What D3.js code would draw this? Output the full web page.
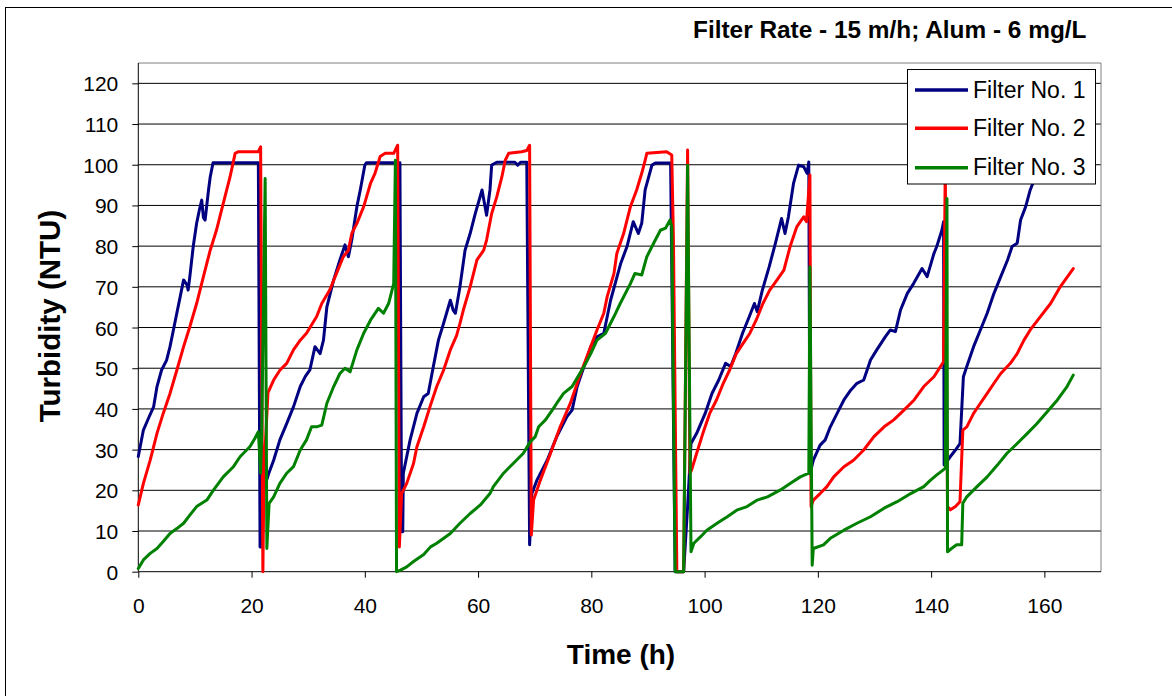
<!DOCTYPE html>
<html>
<head>
<meta charset="utf-8">
<script src="https://cdn.jsdelivr.net/npm/d3@7"></script>
<style>
  html, body { margin: 0; padding: 0; background: #fff; }
  svg { display: block; }
  text { font-family: "Liberation Sans", Arial, sans-serif; fill: #000; }
</style>
</head>
<body>
<svg id="chart" width="1172" height="696"></svg>
<script>
// ---- Data (time in h, turbidity in NTU) ----
const title = "Filter Rate - 15 m/h; Alum - 6 mg/L";
const xLabel = "Time (h)";
const yLabel = "Turbidity (NTU)";
const seriesNames = ["Filter No. 1", "Filter No. 2", "Filter No. 3"];
const seriesColors = ["#000080", "#FF0000", "#008000"];
const xTicks = [0, 20, 40, 60, 80, 100, 120, 140, 160];
const yTicks = [0, 10, 20, 30, 40, 50, 60, 70, 80, 90, 100, 110, 120];

const filter1 = [[0,28.3],[0.9,34.8],[1.8,37.7],[2.7,40.5],[3.3,45.5],[4.1,49.5],[5.0,52],[5.6,55.3],[6.2,59.4],[6.8,63.5],[7.4,67.6],[8.0,71.7],[8.6,70.5],[8.8,69.2],[9.1,72.5],[9.7,79.9],[10.3,85.6],[10.8,89],[11.2,91.3],[11.5,87],[11.8,86.4],[12.4,93.8],[12.7,97],[13.2,100.5],[21.2,100.5],[21.5,6.1],[21.7,6.1],[22.1,20],[23.0,24],[23.9,27.4],[25.0,32.4],[26.2,36.4],[27.4,40.5],[28.6,45.5],[29.5,48],[30.3,49.6],[31.2,55.3],[32.1,53.6],[32.7,56.9],[33.3,65.1],[34.5,71.7],[35.6,76.6],[36.5,80.3],[37.1,77.4],[37.7,81.5],[38.6,89.7],[39.2,93.8],[40.0,99.9],[40.3,100.5],[46.2,100.5],[46.5,9.8],[46.7,9.8],[46.8,24.2],[48.0,32.4],[49.2,38.9],[50.4,43],[51.2,43.8],[52.1,50.4],[53.0,56.9],[53.9,61],[55.1,66.7],[55.6,64.3],[56.0,63.5],[56.8,70],[57.7,79],[58.6,83.1],[59.5,88],[60.7,93.8],[61.5,87.6],[62.1,93.8],[62.4,99.9],[63.3,100.6],[66.5,100.6],[67,99.9],[67.5,100.6],[68.6,100.6],[69.1,6.6],[69.5,19.2],[70.4,22.5],[72.2,27.4],[73.9,33.2],[75.7,38.1],[76.6,39.7],[77.5,45.5],[78.7,50.4],[79.9,55.3],[81.0,57.7],[82.2,58.6],[83.4,66.7],[85.2,75.8],[86.3,79.9],[87.4,86],[88.3,83.1],[88.9,85.6],[89.5,93.8],[90.7,99.9],[91.3,100.4],[94.0,100.4],[94.8,0],[96.3,0],[97.0,16],[97.6,31.5],[98.6,34],[100.1,38.9],[101.3,43.8],[102.5,47.1],[103.7,51.2],[104.6,50.4],[105.5,53.6],[106.7,58.6],[107.9,62.7],[108.8,65.9],[109.3,63.9],[110.2,69.2],[111.4,74.9],[112.5,80.7],[113.6,86.8],[114.2,83.1],[114.8,87.2],[115.7,95.4],[116.6,99.9],[117.5,99.5],[118.1,97.9],[118.4,100.7],[118.6,24],[119.2,27.4],[120.4,31.1],[121.3,32.4],[122.2,35.6],[123.4,38.9],[124.6,42.2],[125.8,44.6],[126.9,46.3],[128.1,47.1],[129.3,52],[130.4,54.5],[131.9,57.7],[132.8,59.4],[133.7,59],[134.6,64.3],[135.8,68.4],[136.9,70.8],[138.4,74.5],[139.3,72.5],[140.5,78.2],[141.0,79.9],[141.9,83.9],[142.2,86],[142.3,26.2],[143.4,28.3],[144.3,29.9],[145.1,31.5],[145.7,47.9],[146.3,50.4],[147.5,55.3],[148.7,59.4],[149.9,63.5],[151.1,68.4],[152.3,72.5],[153.5,76.6],[154.3,79.9],[155.2,80.7],[155.8,86.4],[156.7,89.7],[157.5,93.8],[158.4,97],[159.5,100.5],[165,100.5]];

const filter2 = [[0,16.4],[0.9,21.7],[2.1,27.4],[3.3,34],[4.4,38.9],[5.6,43.8],[6.8,49.5],[8.0,55.3],[9.1,60.2],[10.3,65.9],[11.5,72.5],[12.7,79],[13.8,83.9],[15.0,90.5],[16.2,97],[17.1,102.8],[17.7,103.2],[21.2,103.2],[21.6,104.4],[22.0,0],[22.2,25],[22.9,44],[23.9,47.1],[25.0,49.5],[26.2,51.2],[27.4,54.5],[28.6,56.9],[29.7,58.6],[31.5,62.7],[32.4,65.9],[33.8,69.2],[35.0,73.3],[36.2,77.4],[37.1,79],[37.7,83.1],[38.6,85.6],[39.8,89.7],[41.0,95.4],[41.8,97.9],[42.7,102],[43.6,102.8],[45.1,102.8],[45.8,104.8],[46.1,6.1],[46.5,19.2],[47.4,21.7],[48.6,26.6],[49.2,30.7],[50.4,35.6],[51.5,40.5],[52.7,45.5],[53.9,49.5],[55.1,54.5],[56.2,58],[56.8,61],[57.4,64.3],[58.6,70],[59.8,76.6],[61.0,79],[61.5,81.5],[62.4,88],[63.3,92.1],[64.2,97],[64.8,101.1],[65.4,102.8],[67.7,103.2],[68.6,103.5],[69.1,104.8],[69.4,9],[69.8,17.6],[71.0,22.5],[72.8,29.1],[74.5,35.6],[76.3,41.4],[78.1,48.7],[79.9,55.3],[81.0,59.4],[82.2,63.5],[82.8,67.6],[84.0,73.3],[84.5,78.2],[85.7,83.1],[86.9,89.7],[88.0,93.8],[88.9,97.9],[89.5,101.1],[89.8,102.8],[93.3,103.2],[94.2,102.4],[94.5,81.5],[95.1,0],[96.3,0],[97.0,103.6],[97.4,24.2],[97.7,25],[98.6,29.1],[99.7,34],[100.9,38.9],[102.1,42.2],[103.3,46.3],[104.4,49.5],[105.6,53.6],[106.8,56.1],[108.0,58.6],[109.1,61.8],[110.3,65.9],[111.5,69.2],[112.8,71.7],[114.0,74.1],[115.1,79.9],[116.3,84.8],[117.5,87.2],[118.0,86],[118.6,97.5],[118.8,16],[119.2,17.6],[120.4,19.2],[121.6,20.9],[122.8,23.3],[124.6,25.8],[126.3,27.4],[128.1,29.9],[129.9,33.2],[131.7,35.6],[133.4,37.3],[135.2,39.7],[137.0,42.2],[138.7,45.5],[140.5,47.9],[142.2,51.6],[142.5,100],[142.9,16],[143.4,15.2],[144.3,16],[145.1,17.2],[145.6,34.8],[146.3,35.6],[147.5,38.9],[148.7,41.4],[149.9,43.8],[151.1,46.3],[152.3,48.7],[154.0,51.2],[155.2,53.6],[156.4,56.9],[157.5,59.4],[159.3,62.7],[161.1,65.9],[162.8,70],[165.1,74.5]];

const filter3 = [[0,0.8],[0.9,2.9],[2.1,4.5],[3.3,5.7],[4.4,7.4],[5.6,9.4],[6.8,10.6],[8.0,11.9],[9.1,13.9],[10.3,16],[12.1,17.6],[13.3,20.1],[15.0,23.3],[16.8,25.8],[18.0,28.3],[19.7,30.7],[20.6,32.8],[21.2,34.4],[21.6,24.2],[21.8,34.8],[22.4,96.6],[22.7,5.7],[23.1,16.8],[23.9,18.4],[25.0,21.7],[26.2,24.2],[27.4,25.8],[28.6,29.9],[29.7,32.4],[30.6,35.6],[31.5,35.6],[32.4,36],[33.3,41.4],[34.5,45.5],[35.6,48.7],[36.5,50],[37.4,49.1],[38.6,54.5],[39.8,58.6],[41.0,61.8],[42.4,64.7],[43.3,63.5],[44.2,65.9],[45.1,70.8],[45.4,101.1],[45.6,0],[46.3,0.4],[47.4,1.2],[48.6,2.5],[50.4,4.2],[51.6,6.1],[52.7,7],[55.1,9.4],[56.8,11.9],[58.6,14.3],[60.4,16.4],[62.1,19.2],[62.7,20.9],[64.5,24.2],[66.2,26.6],[68.0,29.1],[69.2,31.9],[70.1,33.2],[70.7,35.6],[71.9,37.3],[73.1,39.7],[73.9,41.4],[75.1,43.8],[76.6,45.5],[77.8,48.3],[78.7,50.4],[79.9,53.6],[81.0,56.9],[82.5,58.6],[84.0,62.7],[85.1,65.9],[86.9,70.8],[87.7,73.3],[88.9,72.9],[89.8,77.4],[91.0,80.7],[92.2,83.9],[93.1,84.4],[93.9,86.4],[94.2,84.8],[94.8,0],[96.3,0],[97.0,99.9],[97.6,4.9],[98.1,7],[99.3,8.6],[100.4,10.2],[102.2,11.9],[104.0,13.5],[105.8,15.2],[107.5,16],[109.3,17.6],[111.1,18.4],[113.4,20.1],[115.1,21.7],[116.9,23.3],[118.4,24.2],[118.6,74.9],[119.0,1.6],[119.2,5.7],[121.0,6.6],[122.2,8.2],[124.6,10.2],[126.9,11.9],[129.3,13.5],[131.7,15.6],[134.0,17.2],[136.4,19.2],[138.7,20.9],[139.9,22.5],[141.0,23.8],[142.5,25.4],[142.8,91.7],[142.9,4.9],[143.6,5.7],[144.5,6.6],[145.4,6.6],[145.6,16.8],[146.3,18.4],[148.1,20.9],[149.9,23.3],[151.7,26.2],[153.4,29.1],[155.2,31.5],[157.0,34],[158.7,36.4],[160.5,39.3],[162.3,42.2],[164.0,45.5],[165.1,48.3]];

const allSeries = [filter1, filter2, filter3];

// ---- Layout ----
const svg = d3.select("#chart");
const plot = { left: 138.3, right: 1101, top: 63, bottom: 571.7 };

const x = d3.scaleLinear().domain([0, 170]).range([plot.left, plot.right]);
const y = d3.scaleLinear().domain([0, 125]).range([plot.bottom, plot.top]);

// outer frame
svg.append("rect").attr("x", 5.5).attr("y", 7.5).attr("width", 1180).attr("height", 700)
  .attr("fill", "none").attr("stroke", "#000").attr("stroke-width", 1);

// gridlines
svg.append("g").selectAll("line").data(yTicks.filter(d => d > 0)).join("line")
  .attr("x1", plot.left).attr("x2", plot.right)
  .attr("y1", d => y(d)).attr("y2", d => y(d))
  .attr("stroke", "#000").attr("stroke-width", 1);

// plot frame top/right (gray)
svg.append("line").attr("x1", plot.left).attr("x2", plot.right).attr("y1", plot.top).attr("y2", plot.top)
  .attr("stroke", "#808080").attr("stroke-width", 1);
svg.append("line").attr("x1", plot.right).attr("x2", plot.right).attr("y1", plot.top).attr("y2", plot.bottom)
  .attr("stroke", "#808080").attr("stroke-width", 1);

// axes
const yAxis = d3.axisLeft(y).tickValues(yTicks).tickSize(6).tickPadding(14).tickFormat(d3.format("d"));
const gy = svg.append("g").attr("transform", `translate(${plot.left},0)`).call(yAxis);
gy.select(".domain").attr("stroke", "#000").attr("d", `M0,${plot.top}V${plot.bottom}`);
gy.selectAll(".tick line").attr("stroke", "#000");
gy.selectAll(".tick text").attr("font-size", 21).attr("font-family", "Liberation Sans, Arial, sans-serif").attr("dy", "0.36em");

const xAxis = d3.axisBottom(x).tickValues(xTicks).tickSize(6).tickPadding(20).tickFormat(d3.format("d"));
const gx = svg.append("g").attr("transform", `translate(0,${plot.bottom})`).call(xAxis);
gx.select(".domain").attr("stroke", "#000").attr("d", `M${plot.left},0H${plot.right}`);
gx.selectAll(".tick line").attr("stroke", "#000");
gx.selectAll(".tick text").attr("font-size", 21).attr("font-family", "Liberation Sans, Arial, sans-serif");

// series
const line = d3.line().x(d => x(d[0])).y(d => y(d[1]));
svg.append("g").selectAll("path").data(allSeries).join("path")
  .attr("d", line)
  .attr("fill", "none")
  .attr("stroke", (d, i) => seriesColors[i])
  .attr("stroke-width", 3)
  .attr("stroke-linejoin", "round")
  .attr("stroke-linecap", "round");

// title
svg.append("text").attr("x", 693).attr("y", 38).attr("font-size", 24.4).attr("font-weight", "bold").text(title);

// axis titles
svg.append("text").attr("x", 621).attr("y", 664).attr("text-anchor", "middle")
  .attr("font-size", 28).attr("font-weight", "bold").text(xLabel);
svg.append("text").attr("transform", "translate(60,316) rotate(-90)").attr("text-anchor", "middle")
  .attr("font-size", 29.5).attr("font-weight", "bold").text(yLabel);

// legend
const leg = svg.append("g");
leg.append("rect").attr("x", 907.5).attr("y", 69.5).attr("width", 188).attr("height", 114.5)
  .attr("fill", "#fff").attr("stroke", "#000").attr("stroke-width", 1);
const legY = [90, 128.3, 167.7];
seriesNames.forEach((name, i) => {
  leg.append("line").attr("x1", 915).attr("x2", 968).attr("y1", legY[i]).attr("y2", legY[i])
    .attr("stroke", seriesColors[i]).attr("stroke-width", 3.5);
  leg.append("text").attr("x", 973).attr("y", legY[i] + 7.5).attr("font-size", 23).text(name);
});
</script>
</body>
</html>
